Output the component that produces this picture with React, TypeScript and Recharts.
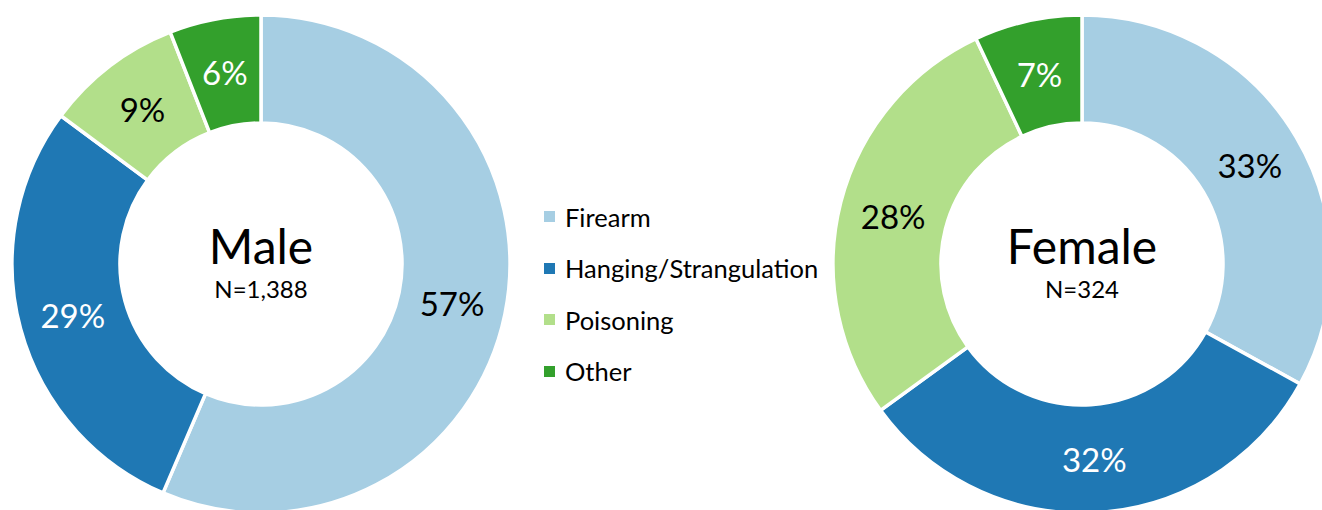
import { PieChart, Pie, Cell, Legend } from 'recharts'

const CATEGORIES = ['Firearm', 'Hanging/Strangulation', 'Poisoning', 'Other']
const MALE_VALUES = [57, 29, 9, 6]
const FEMALE_VALUES = [33, 32, 28, 7]
const GROUPS = ['Male', 'Female']
const GROUP_N = ['N=1,388', 'N=324']

const COLORS = ['#a6cee3', '#1f78b4', '#b2df8a', '#33a02c']
const LABEL_COLORS = ['#000000', '#ffffff', '#000000', '#ffffff']
const FONT = 'Lato, "Noto Sans", sans-serif'
const RADIAN = Math.PI / 180

const maleData = CATEGORIES.map((name, i) => ({ name, value: MALE_VALUES[i] }))
const femaleData = CATEGORIES.map((name, i) => ({ name, value: FEMALE_VALUES[i] }))

// slice percentage at mid-ring, plus the group title in the hole (drawn once per pie)
function makeLabel(gi: number) {
  return (props: any) => {
    const { cx, cy, midAngle, innerRadius, outerRadius, value, index } = props
    const r = (innerRadius + outerRadius) / 2
    const x = cx + r * Math.cos(-midAngle * RADIAN)
    const y = cy + r * Math.sin(-midAngle * RADIAN)
    return (
      <g fontFamily={FONT}>
        <text
          x={x}
          y={y}
          fill={LABEL_COLORS[index]}
          textAnchor="middle"
          dominantBaseline="central"
          fontSize={33}
        >
          {`${value}%`}
        </text>
        {index === 0 && (
          <g fill="#000" textAnchor="middle">
            <text x={cx} y={cy} fontSize={48}>
              {GROUPS[gi]}
            </text>
            <text x={cx} y={cy + 34} fontSize={24}>
              {GROUP_N[gi]}
            </text>
          </g>
        )}
      </g>
    )
  }
}

function LegendBox() {
  return (
    <div style={{ fontFamily: FONT, fontSize: 25.5, color: '#000' }}>
      {CATEGORIES.map((c, i) => (
        <div key={c} style={{ display: 'flex', alignItems: 'center', height: 51.5 }}>
          <span
            style={{
              width: 11,
              height: 11,
              background: COLORS[i],
              marginRight: 10,
              display: 'inline-block',
            }}
          />
          <span>{c}</span>
        </div>
      ))}
    </div>
  )
}

export default function App() {
  return (
    <div style={{ position: 'absolute', left: 0, top: 0, width: 1322, height: 510, background: '#fff' }}>
      <PieChart width={1322} height={510} margin={{ top: 0, right: 0, bottom: 0, left: 0 }}>
        {[maleData, femaleData].map((d, gi) => (
          <Pie
            key={GROUPS[gi]}
            data={d}
            dataKey="value"
            nameKey="name"
            cx={gi === 0 ? 261 : 1082}
            cy={264}
            innerRadius={141}
            outerRadius={249}
            startAngle={90}
            endAngle={-270}
            stroke="#fff"
            strokeWidth={3.5}
            label={makeLabel(gi)}
            labelLine={false}
            isAnimationActive={false}
          >
            {d.map((_, i) => (
              <Cell key={i} fill={COLORS[i]} />
            ))}
          </Pie>
        ))}
        <Legend
          layout="vertical"
          content={() => <LegendBox />}
          wrapperStyle={{ left: 544, top: 191, width: 320 }}
        />
      </PieChart>
    </div>
  )
}
